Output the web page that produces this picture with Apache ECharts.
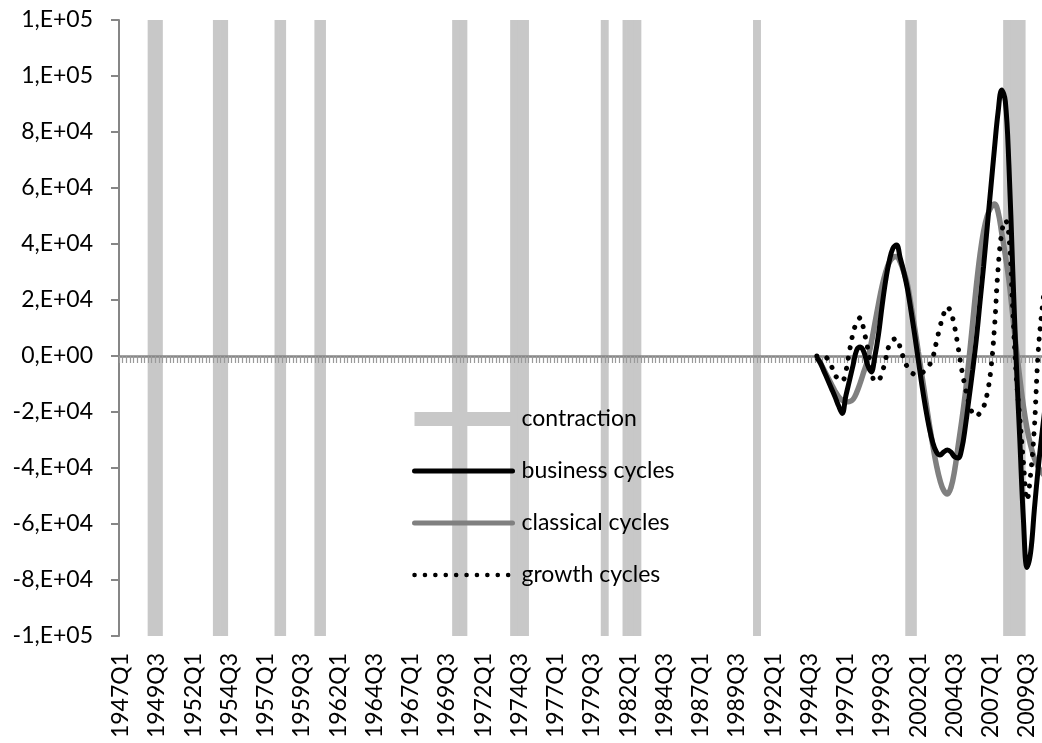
<!DOCTYPE html>
<html>
<head>
<meta charset="utf-8">
<script src="https://cdn.jsdelivr.net/npm/echarts@6/dist/echarts.min.js"></script>
<style>
html,body{margin:0;padding:0;background:#fff;overflow:hidden;}
#chart{width:1042px;height:743px;}
</style>
</head>
<body>
<div id="chart"></div>
<script>
// ---- data ----
const firstYear = 1947, lastYear = 2010;
const categories = [];
for (let y = firstYear; y <= lastYear; y++) for (let q = 1; q <= 4; q++) categories.push(y + 'Q' + q);

// NBER contraction quarters (quarter after peak through trough)
const contractionPeriods = [
  ['1949Q1','1949Q4'], ['1953Q3','1954Q2'], ['1957Q4','1958Q2'], ['1960Q3','1961Q1'],
  ['1970Q1','1970Q4'], ['1974Q1','1975Q1'], ['1980Q2','1980Q3'], ['1981Q4','1982Q4'],
  ['1990Q4','1991Q1'], ['2001Q2','2001Q4'], ['2008Q1','2009Q2']
];

const cycleStart = '1995Q1';
const businessCycles = [
  -500, -2500, -5500, -8500,
  -11500, -14500, -17800, -20500,
  -14300, -8800, -3300, 2100,
  3200, 1400, -3200, -5700,
  -300, 7500, 17800, 27000,
  34000, 38500, 39600, 35000,
  30000, 24000, 16000, 7500,
  -1500, -10500, -18500, -25500,
  -31000, -34300, -35400, -34300,
  -33600, -34300, -36000, -36400,
  -33000, -25000, -15000, -5000,
  6000, 19000, 32000, 46000,
  60000, 74000, 87000, 95000,
  91000, 68000, 32500, -1500,
  -30000, -58500, -75500, -70000,
  -55000, -41000, -29000, -18000
];
const classicalCycles = [
  -300, -2500, -5000, -7500,
  -10000, -12500, -14500, -15800,
  -16400, -16300, -15500, -13000,
  -9500, -5500, -1500, 4500,
  11500, 18500, 25000, 30000,
  33500, 35200, 35500, 33500,
  30000, 25500, 18000, 10000,
  1500, -7000, -15500, -24000,
  -32000, -39000, -44500, -48000,
  -49300, -47000, -41000, -32000,
  -23000, -13000, -1000, 12000,
  25000, 36000, 44500, 50000,
  53000, 54300, 51500, 44000,
  36000, 27000, 15000, 3000,
  -8000, -18000, -26000, -32000,
  -36500, -39500, -41500, -43000
];
const growthCycles = [
  0, 0, -200, -1000,
  -3500, -6700, -8300, -8900,
  -5500, 1700, 8100, 12000,
  13700, 9000, 3000, -4000,
  -9000, -8700, -6000, -1000,
  4000, 5800, 6200, 3000,
  -1000, -4000, -5700, -6500,
  -6500, -6000, -5000, -3400,
  -500, 5000, 10500, 15000,
  17500, 15500, 10500, 3000,
  -5000, -11500, -17000, -20500,
  -21500, -20300, -18200, -13500,
  -5000, 10000, 31000, 44000,
  48500, 43000, 18000, -7000,
  -22000, -38000, -51500, -42000,
  -26000, 0, 15000, 26000
];

const yMin = -100000, yMax = 120000, yStep = 20000;
const yTickLabels = ['-1,E+05','-8,E+04','-6,E+04','-4,E+04','-2,E+04','0,E+00','2,E+04','4,E+04','6,E+04','8,E+04','1,E+05','1,E+05'];

// ---- build ----
const inContraction = categories.map(c => contractionPeriods.some(p => c >= p[0] && c <= p[1]));
const barTop = inContraction.map(f => f ? yMax : null);
const barBottom = inContraction.map(f => f ? yMin : null);
const startIdx = categories.indexOf(cycleStart);
function pad(arr) {
  const out = categories.map(() => null);
  arr.forEach((v, i) => { if (startIdx + i < out.length) out[startIdx + i] = v; });
  return out;
}

const FONT = 'Lato, "Open Sans", sans-serif';
const hiddenSymbol = {color: 'rgba(0,0,0,0)', opacity: 0, borderWidth: 0};
const chart = echarts.init(document.getElementById('chart'), null, {renderer: 'canvas'});
chart.setOption({
  animation: false,
  backgroundColor: '#ffffff',
  textStyle: {fontFamily: FONT},
  grid: {left: 119, top: 20, width: 928, height: 616, containLabel: false, outerBoundsMode: 'none'},
  legend: {
    orient: 'vertical',
    left: 412, top: 406, padding: 0,
    itemWidth: 98, itemHeight: 14, itemGap: 26,
    textStyle: {fontFamily: FONT, fontSize: 23, color: '#000', lineHeight: 26, padding: [0, 0, 0, 4]},
    data: [
      {name: 'contraction', icon: 'rect', itemStyle: {color: '#c8c8c8'}},
      {name: 'business cycles', itemStyle: hiddenSymbol, lineStyle: {width: 5, cap: 'round', color: '#000'}},
      {name: 'classical cycles', itemStyle: hiddenSymbol, lineStyle: {width: 5, cap: 'round', color: '#808080'}},
      {name: 'growth cycles', itemStyle: hiddenSymbol, lineStyle: {width: 4.5, cap: 'round', color: '#000', type: [0.1, 10.3]}}
    ]
  },
  xAxis: [
    {
      type: 'category', data: categories, position: 'bottom', boundaryGap: true,
      axisLine: {show: false, onZero: false}, axisTick: {show: false},
      axisLabel: {interval: 9, rotate: 90, margin: 17, fontSize: 23, color: '#000', fontFamily: FONT},
      splitLine: {show: false}
    },
    {
      type: 'category', data: categories, position: 'bottom', boundaryGap: true, z: 1.5,
      axisLine: {show: true, onZero: true, lineStyle: {color: '#868686', width: 2.5}},
      axisTick: {show: true, interval: 0, length: 7, lineStyle: {color: '#9a9a9a', width: 1.2}},
      axisLabel: {show: false}, splitLine: {show: false}
    }
  ],
  yAxis: {
    type: 'value', min: yMin, max: yMax, interval: yStep,
    axisLine: {show: true, onZero: false, lineStyle: {color: '#868686', width: 2}},
    axisTick: {show: true, length: 8, lineStyle: {color: '#868686', width: 2}},
    axisLabel: {margin: 26, fontSize: 23, color: '#000', fontFamily: FONT,
      formatter: v => yTickLabels[Math.round((v - yMin) / yStep)]},
    splitLine: {show: false}
  },
  series: [
    {name: 'contraction', type: 'bar', data: barTop, xAxisIndex: 0, barWidth: 4.3, barGap: '-100%',
     itemStyle: {color: '#c8c8c8'}, z: 1, silent: true},
    {name: 'contraction', type: 'bar', data: barBottom, xAxisIndex: 0, barWidth: 4.3, barGap: '-100%',
     itemStyle: {color: '#c8c8c8'}, z: 1, silent: true},
    {name: 'business cycles', type: 'line', data: pad(businessCycles), xAxisIndex: 0, smooth: 0.4,
     symbol: 'none', showSymbol: false, connectNulls: false, z: 4,
     lineStyle: {color: '#000000', width: 5}, itemStyle: {color: '#000000'}},
    {name: 'classical cycles', type: 'line', data: pad(classicalCycles), xAxisIndex: 0, smooth: 0.4,
     symbol: 'none', showSymbol: false, connectNulls: false, z: 3,
     lineStyle: {color: '#808080', width: 5.5}, itemStyle: {color: '#808080'}},
    {name: 'growth cycles', type: 'line', data: pad(growthCycles), xAxisIndex: 0, smooth: 0.4,
     symbol: 'none', showSymbol: false, connectNulls: false, z: 5,
     lineStyle: {color: '#000000', width: 5, type: [0.1, 10.4], cap: 'round'}, itemStyle: {color: '#000000'}}
  ]
});
</script>
</body>
</html>
